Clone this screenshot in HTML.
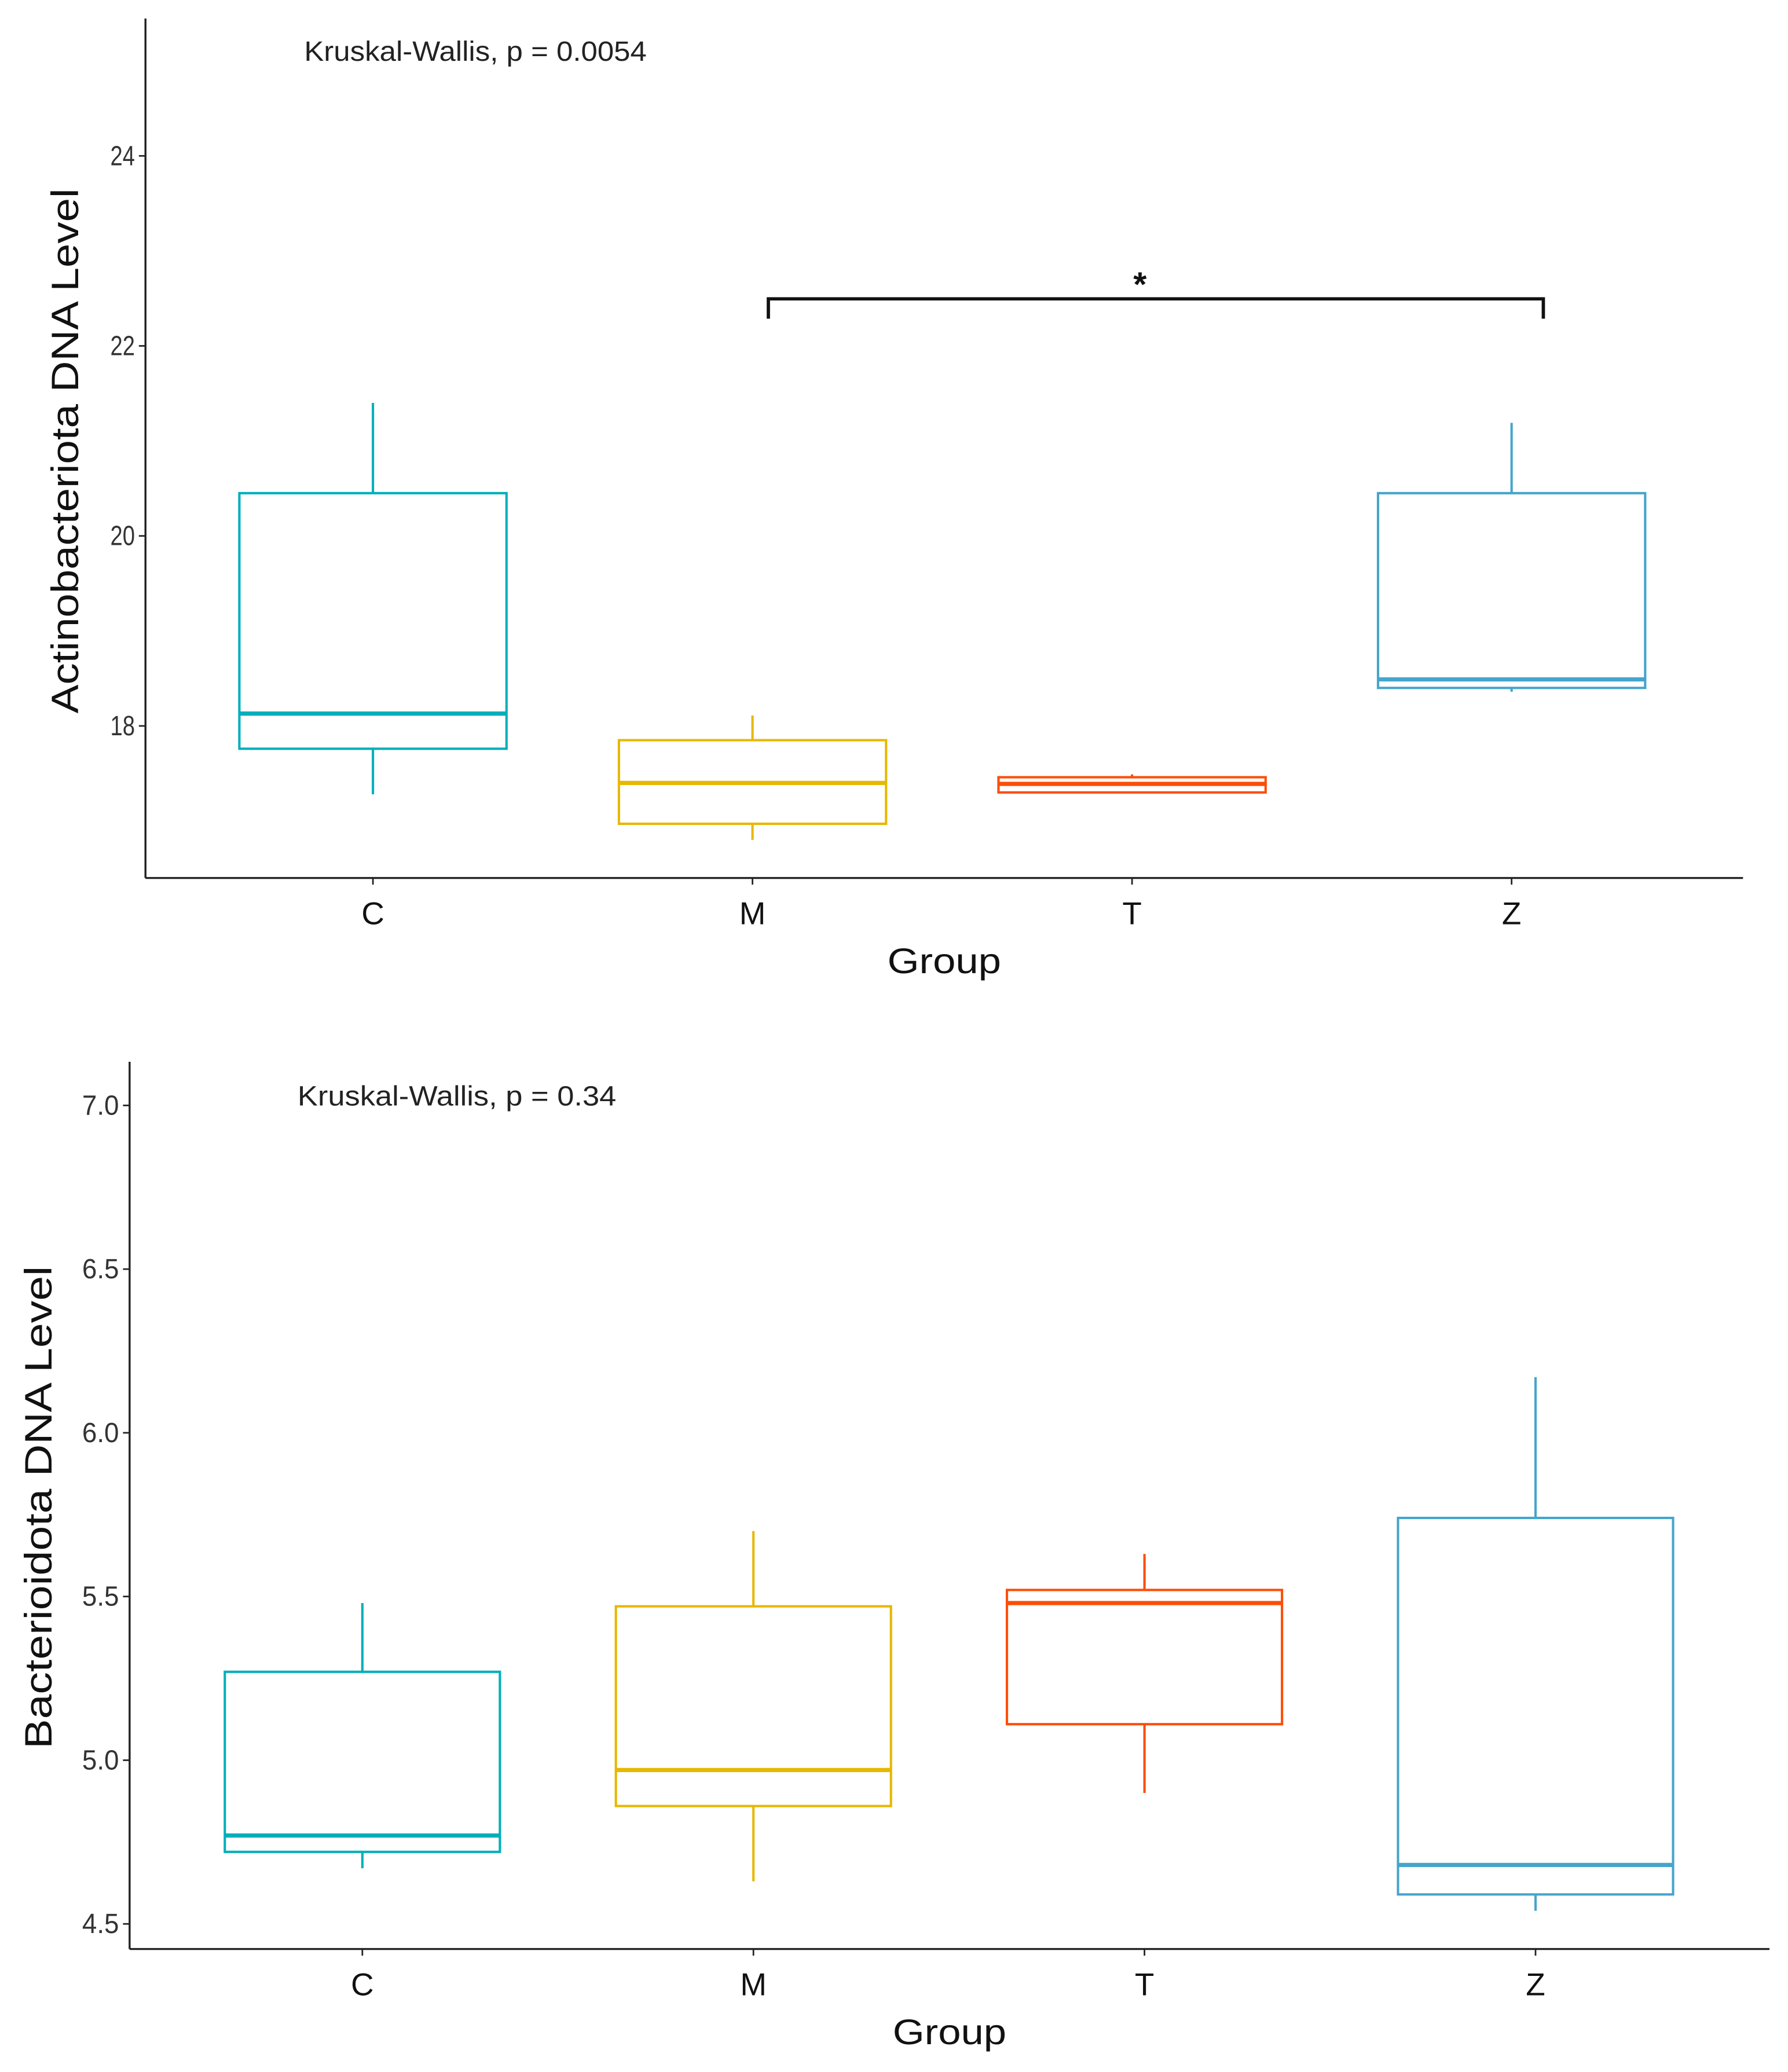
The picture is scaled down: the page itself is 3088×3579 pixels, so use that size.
<!DOCTYPE html>
<html><head><meta charset="utf-8"><style>
html,body{margin:0;padding:0;background:#fff}
svg{display:block}
text{font-family:"Liberation Sans",Arial,sans-serif}
</style></head><body>
<svg id="fig" width="3088" height="3579" viewBox="0 0 1352 1567" preserveAspectRatio="none" xmlns="http://www.w3.org/2000/svg"></svg>
<script>
const groups = ["C","M","T","Z"];
const colors = ["#00AFBB","#E7B800","#FC4E07","#45A5CB"];
// top panel: [lo, q1, med, q3, hi]
const topLo  = [17.28,16.80,17.30,18.36];
const topQ1  = [17.76,16.97,17.30,18.40];
const topMed = [18.13,17.40,17.39,18.49];
const topQ3  = [20.45,17.85,17.46,20.45];
const topHi  = [21.40,18.11,17.49,21.19];
const topTicks = [18,20,22,24];
// bottom panel
const botLo  = [4.67,4.63,4.90,4.54];
const botQ1  = [4.72,4.86,5.11,4.59];
const botMed = [4.77,4.97,5.48,4.68];
const botQ3  = [5.27,5.47,5.52,5.74];
const botHi  = [5.48,5.70,5.63,6.17];
const botTicks = [4.5,5.0,5.5,6.0,6.5,7.0];

const NS="http://www.w3.org/2000/svg";
const svg=document.getElementById('fig');
function mk(tag,attrs,parent){const e=document.createElementNS(NS,tag);for(const k in attrs)e.setAttribute(k,attrs[k]);(parent||svg).appendChild(e);return e;}

function panel(cfg){
  const g=mk('g',{});
  
  
  const y=v=>cfg.y0px+(v-cfg.y0v)*cfg.pxPerUnit;
  const x=i=>cfg.xs[0]+i*(cfg.xs[1]-cfg.xs[0]);
  const ya=mk('line',{x1:cfg.left,y1:cfg.top,x2:cfg.left,y2:cfg.bottom,stroke:'#222','stroke-width':1.5},g);
  
  
  const xa=mk('line',{x1:cfg.left,y1:cfg.bottom,x2:cfg.right,y2:cfg.bottom,stroke:'#222','stroke-width':1.5},g);
  
  
  cfg.ticks.forEach(t=>{
    mk('line',{x1:cfg.left-5,x2:cfg.left,y1:y(t),y2:y(t),stroke:'#222','stroke-width':1.2},g);
    const s=cfg.fmt(t);
    const tl=mk('text',{x:cfg.left-8,y:y(t)+7,'text-anchor':'end','font-size':21,fill:'#333',textLength:s.length*9.3,lengthAdjust:'spacingAndGlyphs'},g);
    tl.textContent=s;
    
    
  });
  groups.forEach((gname,i)=>{
    const cx=x(i),hw=cfg.hw,c=colors[i];
    mk('line',{x1:cx,x2:cx,y1:y(cfg.hi[i]),y2:y(cfg.q3[i]),stroke:c,'stroke-width':1.8},g);
    mk('line',{x1:cx,x2:cx,y1:y(cfg.q1[i]),y2:y(cfg.lo[i]),stroke:c,'stroke-width':1.8},g);
    const b=mk('rect',{x:cx-hw,y:y(cfg.q3[i]),width:2*hw,height:Math.max(0.5,y(cfg.q1[i])-y(cfg.q3[i])),fill:'#fff',stroke:c,'stroke-width':1.8},g);
    
    
    const m=mk('line',{x1:cx-hw,x2:cx+hw,y1:y(cfg.med[i]),y2:y(cfg.med[i]),stroke:c,'stroke-width':3.2},g);
    
    
    mk('line',{x1:cx,x2:cx,y1:cfg.bottom,y2:cfg.bottom+5,stroke:'#222','stroke-width':1.2},g);
    const xl=mk('text',{x:cx,y:cfg.bottom+35,'text-anchor':'middle','font-size':24,fill:'#111'},g);
    xl.textContent=gname;
    
    
  });
  const xt=mk('text',{x:(cfg.left+cfg.right)/2,y:cfg.bottom+72,'text-anchor':'middle','font-size':27,fill:'#111',textLength:86,lengthAdjust:'spacingAndGlyphs'},g);
  xt.textContent='Group';
  
  
  const yt=mk('text',{x:0,y:0,'text-anchor':'middle','font-size':29,fill:'#111',textLength:cfg.ylen,lengthAdjust:'spacingAndGlyphs',transform:`translate(${cfg.ytx},${cfg.yty}) rotate(-90)`},g);
  yt.textContent=cfg.ylabel;
  
  
  const kw=mk('text',{x:cfg.kx,y:cfg.ky,'font-size':21,fill:'#222',textLength:cfg.klen,lengthAdjust:'spacingAndGlyphs'},g);
  kw.textContent=cfg.ktext;
  
  
  return {g,y,x};
}

panel({name:'actinobacteriota-panel',left:110,right:1318,top:14,bottom:664,y0px:549,y0v:18,pxPerUnit:-71.85,
  xs:[282,569],hw:101,ticks:topTicks,fmt:t=>String(t),lo:topLo,q1:topQ1,med:topMed,q3:topQ3,hi:topHi,
  ylabel:'Actinobacteriota DNA Level',ylen:397,ytx:59,yty:341,kx:230,ky:46,klen:259,ktext:'Kruskal-Wallis, p = 0.0054'});
const br=mk('path',{d:'M581 241 V226 H1167 V241',fill:'none',stroke:'#111','stroke-width':2.5});


const st=mk('text',{x:862,y:224,'text-anchor':'middle','font-size':26,'font-weight':'bold',fill:'#111'});
st.textContent='*';



panel({name:'bacterioidota-panel',left:98,right:1338,top:803,bottom:1474,y0px:1455,y0v:4.5,pxPerUnit:-247.6,
  xs:[274,569.7],hw:104,ticks:botTicks,fmt:t=>t.toFixed(1),lo:botLo,q1:botQ1,med:botMed,q3:botQ3,hi:botHi,
  ylabel:'Bacterioidota DNA Level',ylen:365,ytx:39,yty:1140,kx:225,ky:836,klen:241,ktext:'Kruskal-Wallis, p = 0.34'});
</script>
</body></html>
